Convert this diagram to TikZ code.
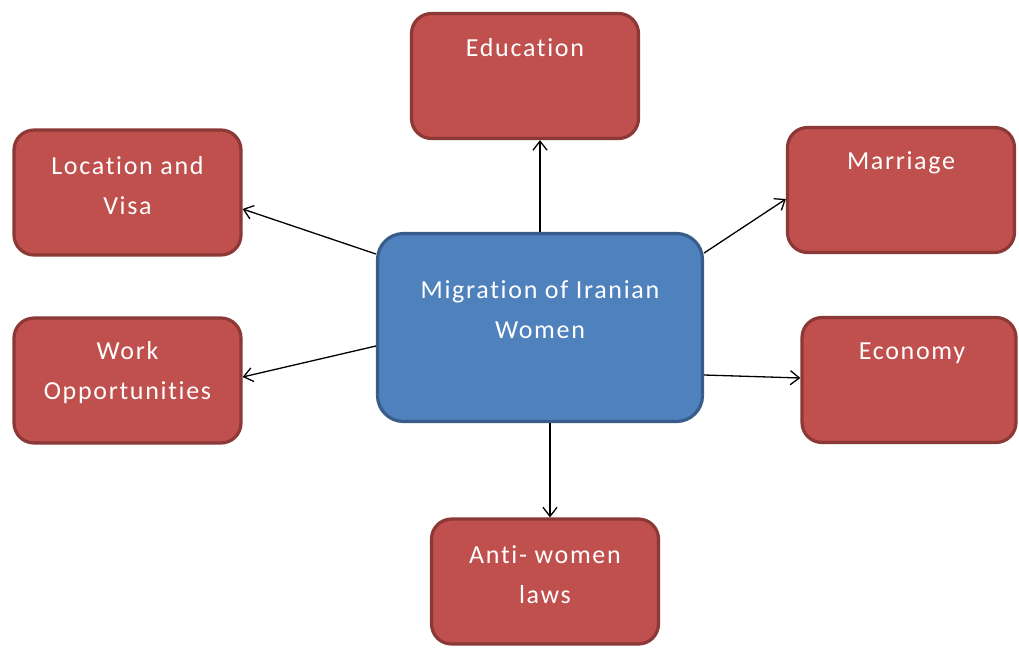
\documentclass[tikz,border=0pt]{standalone}
\usepackage{fontspec}
\setmainfont{Carlito}[LetterSpace=6.5,Ligatures=NoCommon]
\usetikzlibrary{calc,arrows.meta}
\definecolor{rfill}{HTML}{C0504D}
\definecolor{rline}{HTML}{8C3836}
\definecolor{bfill}{HTML}{4F81BD}
\definecolor{bline}{HTML}{385D8A}
\tikzset{
  redbox/.style={draw=rline, fill=rfill, line width=3.2pt, rounded corners=20pt, minimum width=227pt, minimum height=125pt, inner sep=0pt},
  bluebox/.style={draw=bline, fill=bfill, line width=3.2pt, rounded corners=26pt, minimum width=325pt, minimum height=188pt, inner sep=0pt},
  lbl/.style={text=white, font=\fontsize{26}{40}\selectfont, align=center, inner sep=0pt},
  arr/.style={-{Straight Barb[length=9pt,width=14pt]}, line width=1.3pt, black}
}
\begin{document}
\begin{tikzpicture}[x=1pt,y=-1pt]
\useasboundingbox (0,0) rectangle (1019,648);
\node[redbox] (edu) at (525,76) {};
\node[redbox] (loc) at (127.5,192.5) {};
\node[redbox] (mar) at (901,190) {};
\node[redbox] (work) at (127.5,380.5) {};
\node[redbox, minimum width=214pt] (eco) at (909,380) {};
\node[redbox] (anti) at (545,581.5) {};
\node[bluebox] (mig) at (540,327.5) {};
\node[lbl] (tedu) at ($(edu.north)+(0,36)$) {Education};
\node[lbl] (tloc) at ($(loc.north)+(0,57)$) {Location and\\Visa};
\node[lbl] (tmar) at ($(mar.north)+(0,37)$) {Marriage};
\node[lbl] (twork) at ($(work.north)+(0,56)$) {Work\\Opportunities};
\node[lbl] (teco) at ($(eco.north)+(3,37)$) {Economy};
\node[lbl] (tanti) at ($(anti.north)+(0,57)$) {Anti- women\\laws};
\node[lbl] (tmig) at ($(mig.north)+(0,78)$) {Migration of Iranian\\Women};
\draw[arr] (mig.north) -- (mig.north |- edu.south);
\coordinate (bs) at ($(mig.south)+(10,0)$);
\draw[arr] (bs) -- (bs |- anti.north);
\draw[arr] ($(mig.west)+(0,-73.5)$) -- ($(loc.east)+(0,16.5)$);
\draw[arr] ($(mig.east)+(0,-74.5)$) -- ($(mar.west)+(0,9)$);
\draw[arr] ($(mig.west)+(0,18.5)$) -- ($(work.east)+(0,-3.5)$);
\draw[arr] ($(mig.east)+(0,47.5)$) -- ($(eco.west)+(0,-2)$);
\end{tikzpicture}
\end{document}
